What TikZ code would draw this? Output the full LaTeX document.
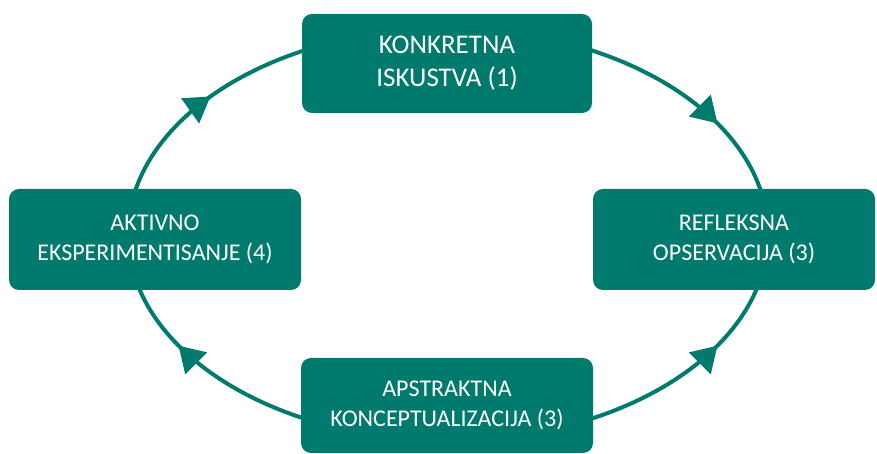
\documentclass[tikz,border=0pt]{standalone}
\usepackage{fontspec}
\setmainfont{Carlito}
\usetikzlibrary{arrows.meta,decorations.markings}
\definecolor{kolbteal}{RGB}{0,122,108}

\begin{document}
\begin{tikzpicture}[x=1pt,y=1pt,
  stage/.style={fill=kolbteal,text=white,rounded corners=10pt,inner sep=0pt,
    align=center,font=\fontsize{24}{30}\selectfont},
  cycleline/.style={color=kolbteal,line width=4pt},
  tipat/.style={postaction={decorate},decoration={markings,
    mark=at position #1 with {\arrow{Triangle[length=25pt,width=30pt]}}}}]
  \useasboundingbox (0,0) rectangle (877,454);

  % centre of the cycle
  \coordinate (O) at (448,219.5);
  \coordinate (L) at ([xshift=-320pt]O);
  \coordinate (T) at ([yshift=206pt]O);
  \coordinate (B) at ([yshift=-206pt]O);

  % the cycle itself, under the boxes
  \draw[cycleline,tipat=0.40] (L) arc[start angle=180,end angle=90,x radius=320pt,y radius=206pt];
  \draw[cycleline,tipat=0.70] (T) arc[start angle=90,end angle=0,x radius=320pt,y radius=206pt];
  \draw[cycleline,tipat=0.70] (B) arc[start angle=270,end angle=360,x radius=320pt,y radius=206pt];
  \draw[cycleline,tipat=0.70] (B) arc[start angle=270,end angle=180,x radius=320pt,y radius=206pt];

  \node[stage,minimum width=290pt,minimum height=99pt,font=\fontsize{27}{33}\selectfont]
    (iskustvo) at (447,390.5) {KONKRETNA\\ISKUSTVA (1)};
  \node[stage,minimum width=292pt,minimum height=101pt]
    (eksperiment) at (155,214.5) {AKTIVNO\\EKSPERIMENTISANJE (4)};
  \node[stage,minimum width=282pt,minimum height=101pt]
    (observacija) at (734,214.5) {REFLEKSNA\\OPSERVACIJA (3)};
  \node[stage,minimum width=292pt,minimum height=95pt]
    (konceptualizacija) at (447,48.5) {APSTRAKTNA\\KONCEPTUALIZACIJA (3)};
\end{tikzpicture}
\end{document}
